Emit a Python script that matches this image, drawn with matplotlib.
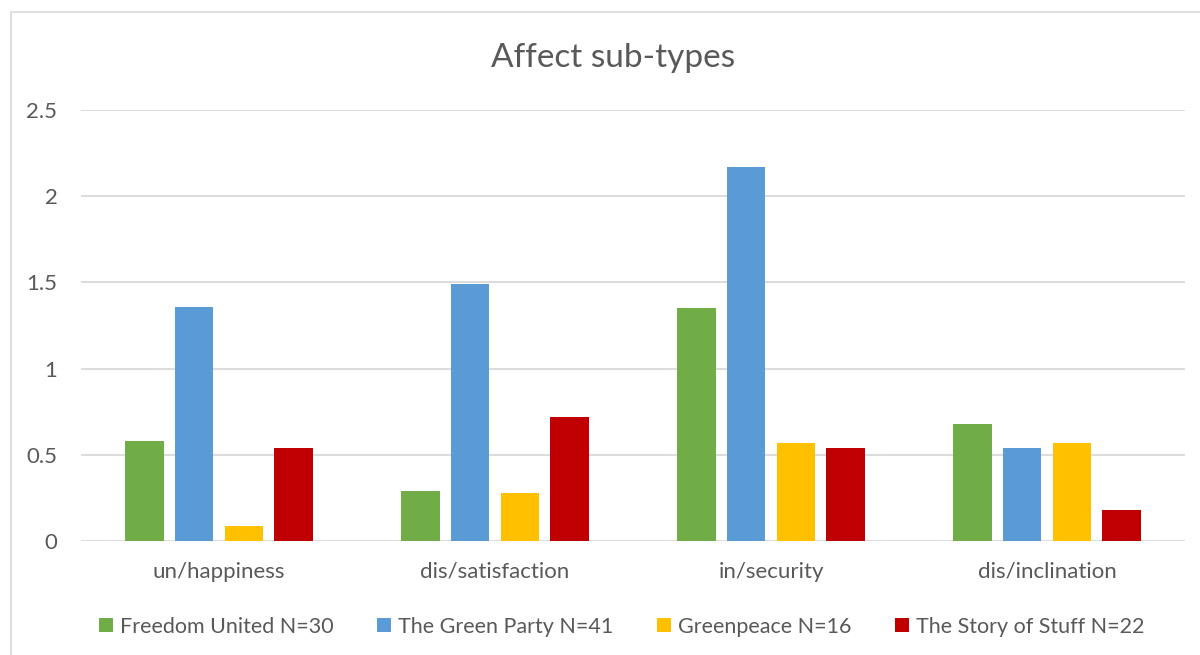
import numpy as np
import matplotlib
matplotlib.use("Agg")
import matplotlib.pyplot as plt
from matplotlib.patches import Rectangle

plt.rcParams['font.family'] = ['Lato', 'DejaVu Sans']

categories = ["un/happiness", "dis/satisfaction", "in/security", "dis/inclination"]
series_names = ["Freedom United N=30", "The Green Party N=41",
                "Greenpeace N=16", "The Story of Stuff N=22"]
freedom_united = [0.58, 0.29, 1.35, 0.68]
green_party = [1.36, 1.49, 2.17, 0.54]
greenpeace = [0.09, 0.28, 0.57, 0.57]
story_of_stuff = [0.54, 0.72, 0.54, 0.18]
colors = ["#70AD47", "#5B9BD5", "#FFC000", "#C00000"]
yticks = [0, 0.5, 1, 1.5, 2, 2.5]

text_col = "#595959"
grid_col = "#D9D9D9"

fig = plt.figure(figsize=(12, 6.55), dpi=100)
ax = fig.add_axes([0.0675, 0.174, 0.92, 0.658])

# outer chart frame
fig.patches.append(Rectangle((11 / 1200, -0.1), 1.2, 1 - 12 / 655 + 0.1,
                             transform=fig.transFigure, fill=False,
                             edgecolor="#D9D9D9", linewidth=1.2))

x = np.arange(len(categories))
slot = 0.181
width = 0.141
all_series = [freedom_united, green_party, greenpeace, story_of_stuff]
for i, (vals, name, col) in enumerate(zip(all_series, series_names, colors)):
    ax.bar(x + (i - 1.5) * slot, vals, width=width, color=col, label=name, zorder=3)

ax.set_xlim(-0.5, len(categories) - 0.5)
ax.set_ylim(0, 2.5)
ax.set_yticks(yticks)
ax.set_yticklabels([f"{t:g}" for t in yticks])
ax.set_xticks(x)
ax.set_xticklabels(categories)
ax.tick_params(axis='both', length=0, colors=text_col, labelsize=16)
ax.tick_params(axis='y', pad=17)
ax.tick_params(axis='x', pad=15)
ax.grid(axis='y', color=grid_col, linewidth=1.3, zorder=0)
for sp in ax.spines.values():
    sp.set_visible(False)

fig.text(0.511, 0.912, "Affect sub-types", ha='center', va='center',
         fontsize=24, color=text_col)

fig.legend(loc='center', bbox_to_anchor=(0.518, 0.043), ncol=4, frameon=False,
           fontsize=15.5, handlelength=0.65, handleheight=0.65, handletextpad=0.35,
           columnspacing=2.0, labelcolor=text_col)

fig.savefig("out.png", dpi=100)
